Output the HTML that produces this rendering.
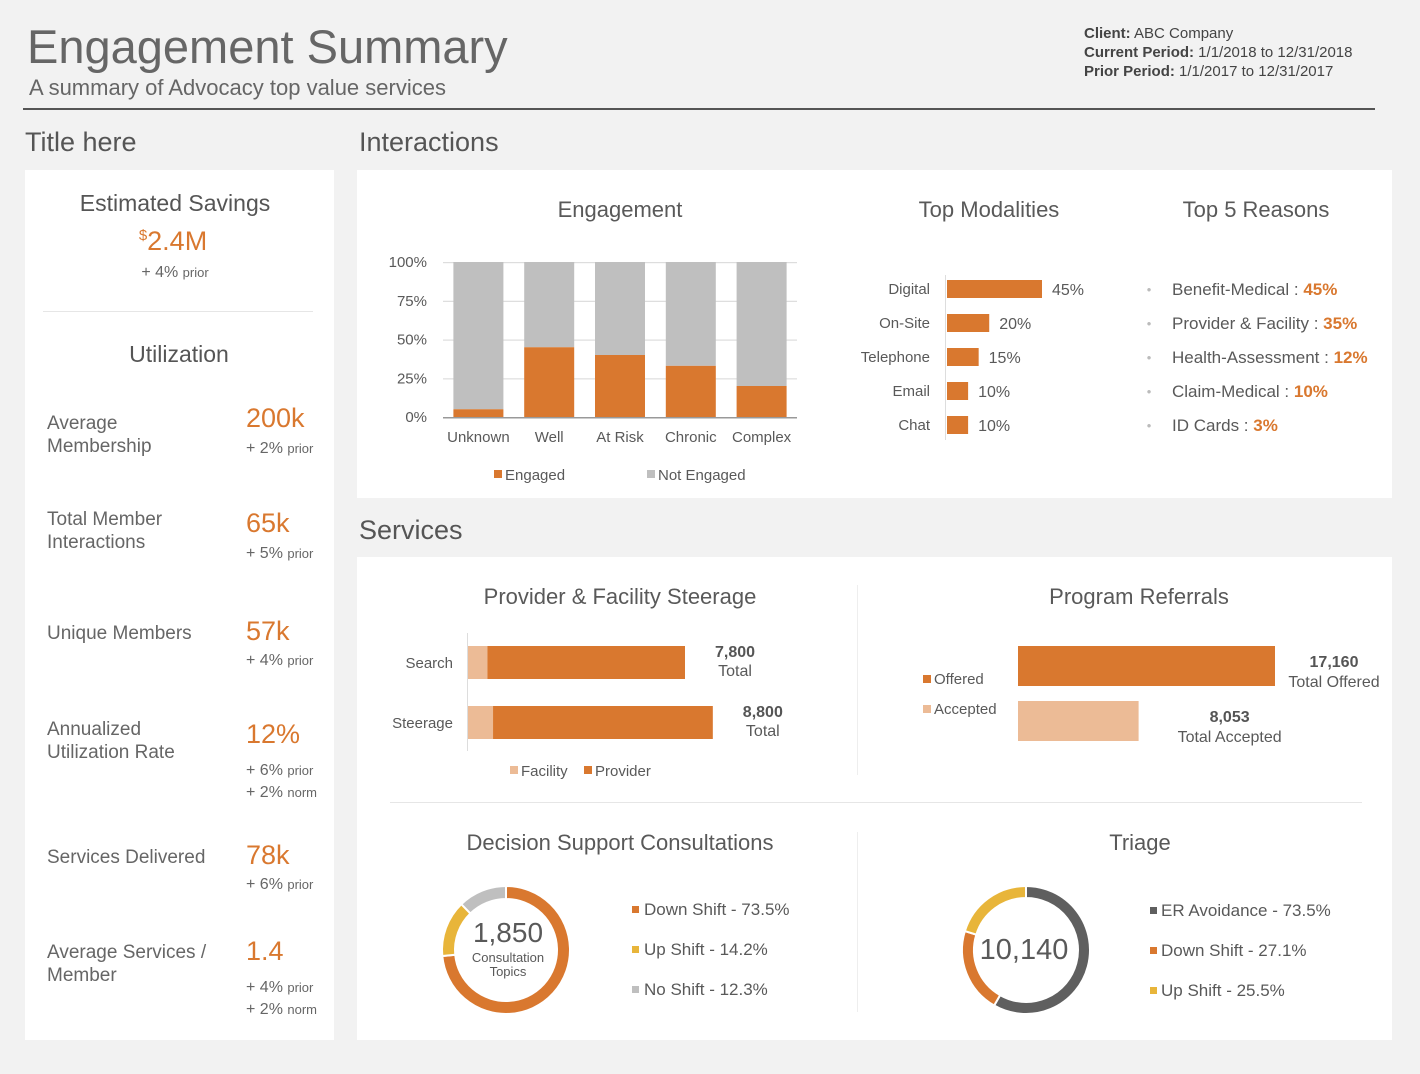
<!DOCTYPE html>
<html><head><meta charset="utf-8">
<style>
body{margin:0;width:1420px;height:1074px;background:#f2f2f2;font-family:"Liberation Sans",sans-serif;color:#595959;position:relative;overflow:hidden}
.a{position:absolute;white-space:nowrap}
.panel{position:absolute;background:#fff}
.o{color:#d9782f}
.lbl{font-size:19px;line-height:23px;color:#666}
.val{font-size:27px;color:#d9782f}
.sub{font-size:16px;color:#666}
.sub small{font-size:13px}
#svg{position:absolute;left:0;top:0}
</style></head><body>
<div class="a" style="left:27px;top:19px;font-size:47px;color:#666">Engagement Summary</div>
<div class="a" style="left:29px;top:75px;font-size:22px;color:#666">A summary of Advocacy top value services</div>
<div class="a" style="left:1084px;top:24px;font-size:15px;line-height:19px;color:#444"><b>Client:</b> ABC Company<br><b>Current Period:</b> 1/1/2018 to 12/31/2018<br><b>Prior Period:</b> 1/1/2017 to 12/31/2017</div>
<div class="a" style="left:23px;top:108px;width:1352px;height:2px;background:#555"></div>
<div class="a" style="left:25px;top:127px;font-size:27px;color:#555">Title here</div>
<div class="a" style="left:359px;top:127px;font-size:27px;color:#555">Interactions</div>
<div class="a" style="left:359px;top:515px;font-size:27px;color:#555">Services</div>

<div class="panel" style="left:25px;top:170px;width:309px;height:870px">
 <div class="a" style="left:0;width:300px;text-align:center;top:20px;font-size:23px;color:#555">Estimated Savings</div>
 <div class="a val" style="left:0;width:296px;text-align:center;top:56px"><sup style="font-size:15px">$</sup>2.4M</div>
 <div class="a sub" style="left:0;width:300px;text-align:center;top:94px">+ 4% <small>prior</small></div>
 <div class="a" style="left:18px;top:141px;width:270px;height:1px;background:#e6e6e6"></div>
 <div class="a" style="left:0;width:308px;text-align:center;top:171px;font-size:23px;color:#555">Utilization</div>
 <div class="a lbl" style="left:22px;top:242px">Average<br>Membership</div>
 <div class="a val" style="left:221px;top:233px">200k</div>
 <div class="a sub" style="left:221px;top:270px">+ 2% <small>prior</small></div>
 <div class="a lbl" style="left:22px;top:338px">Total Member<br>Interactions</div>
 <div class="a val" style="left:221px;top:338px">65k</div>
 <div class="a sub" style="left:221px;top:375px">+ 5% <small>prior</small></div>
 <div class="a lbl" style="left:22px;top:452px">Unique Members</div>
 <div class="a val" style="left:221px;top:446px">57k</div>
 <div class="a sub" style="left:221px;top:482px">+ 4% <small>prior</small></div>
 <div class="a lbl" style="left:22px;top:548px">Annualized<br>Utilization Rate</div>
 <div class="a val" style="left:221px;top:549px">12%</div>
 <div class="a sub" style="left:221px;top:590px;line-height:22px">+ 6% <small>prior</small><br>+ 2% <small>norm</small></div>
 <div class="a lbl" style="left:22px;top:676px">Services Delivered</div>
 <div class="a val" style="left:221px;top:670px">78k</div>
 <div class="a sub" style="left:221px;top:706px">+ 6% <small>prior</small></div>
 <div class="a lbl" style="left:22px;top:771px">Average Services /<br>Member</div>
 <div class="a val" style="left:221px;top:766px">1.4</div>
 <div class="a sub" style="left:221px;top:807px;line-height:22px">+ 4% <small>prior</small><br>+ 2% <small>norm</small></div>
</div>
<div class="panel" style="left:357px;top:170px;width:1035px;height:328px"></div>
<div class="panel" style="left:357px;top:557px;width:1035px;height:483px"></div>

<svg id="svg" width="1420" height="1074" font-family="Liberation Sans, sans-serif" fill="#595959"></svg>
<script>
const engCats=["Unknown","Well","At Risk","Chronic","Complex"];
const engaged=[5,45,40,33,20];
const engTicks=[0,25,50,75,100];
const modCats=["Digital","On-Site","Telephone","Email","Chat"];
const modVals=[45,20,15,10,10];
const reasonNames=["Benefit-Medical","Provider & Facility","Health-Assessment","Claim-Medical","ID Cards"];
const reasonVals=[45,35,12,10,3];
const steerCats=["Search","Steerage"];
const steerFacility=[700,900];
const steerProvider=[7100,7900];
const refCats=["Offered","Accepted"];
const refVals=[17160,8053];
const refLabels=["Total Offered","Total Accepted"];
const dscNames=["Down Shift","Up Shift","No Shift"];
const dscVals=[73.5,14.2,12.3];
const triNames=["ER Avoidance","Down Shift","Up Shift"];
const triVals=[73.5,27.1,25.5];
const OR="#d9782f",LO="#ecbb96",GR="#bfbfbf",YE="#e8b53a",DG="#5f5f5f";
const S=document.getElementById('svg');
function el(tag,at,txt){const e=document.createElementNS('http://www.w3.org/2000/svg',tag);for(const k in at)e.setAttribute(k,at[k]);if(txt!==undefined)e.textContent=txt;S.appendChild(e);return e;}
function T(x,y,s,size,anchor,name,extra){const e=el('text',Object.assign({x:x,y:y,'font-size':size,'text-anchor':anchor||'start'},extra||{}),s);return e;}
function R(x,y,w,h,f,name){const e=el('rect',{x:x,y:y,width:Math.max(0,w),height:h,fill:f});return e;}
T(620,217,"Engagement",22,'middle','engagement-title');
T(989,217,"Top Modalities",22,'middle','modalities-title');
T(1256,217,"Top 5 Reasons",22,'middle','reasons-title');
T(620,604,"Provider & Facility Steerage",22,'middle','steerage-title');
T(1139,604,"Program Referrals",22,'middle','referrals-title');
T(620,850,"Decision Support Consultations",22,'middle','dsc-title');
T(1140,850,"Triage",22,'middle','triage-title');
R(857,585,1,190,"#eee",'services-divider-v1');
R(857,832,1,180,"#eee",'services-divider-v2');
R(390,802,972,1,"#e6e6e6",'services-divider-h');
const ex0=443,ex1=797,ey0=417,ey1=262;
const ey=v=>ey0-(v/100)*(ey0-ey1);
const bw=(ex1-ex0)/engCats.length;
engTicks.forEach(t=>{R(ex0,ey(t),ex1-ex0,1.2,t===0?"#999":"#ddd",'gridline');T(427,ey(t)+5,t+"%",15,'end','y-tick-label');});
engCats.forEach((c,i)=>{const x=ex0+i*bw+(bw-50)/2;
 R(x,ey(100),50,ey(engaged[i])-ey(100),GR,'bar-not-engaged');
 R(x,ey(engaged[i]),50,ey(0)-ey(engaged[i]),OR,'bar-engaged');
 T(x+25,442,c,15,'middle','x-tick-label');});
R(ex0,ey0,ex1-ex0,1.5,"#999",'x-axis');
R(494,470,8,8,OR,'legend-swatch-engaged');T(505,480,"Engaged",15,'start','legend-engaged');
R(647,470,8,8,GR,'legend-swatch-not-engaged');T(658,480,"Not Engaged",15,'start','legend-not-engaged');
const mx0=947,mk=95/45;
R(945,275,1,165,"#ddd",'modality-axis');
modCats.forEach((c,i)=>{const y=289+i*34;R(mx0,y-9,modVals[i]*mk,18,OR,'modality-bar');
 T(930,y+5,c,15,'end','modality-label');T(mx0+modVals[i]*mk+10,y+6,modVals[i]+"%",16,'start','modality-value');});
reasonNames.forEach((n,i)=>{const y=289+i*34;T(1149,y+5,"•",13,'middle','reason-bullet',{fill:'#bbb'});
 const t=T(1172,y+6,n+" : ",17,'start','reason-label');const s=document.createElementNS('http://www.w3.org/2000/svg','tspan');s.setAttribute('fill',OR);s.setAttribute('font-weight','bold');s.textContent=reasonVals[i]+"%";t.appendChild(s);});
const sx0=468,sk=217/7800;
R(467,633,1,118,"#ddd",'steerage-axis');
steerCats.forEach((c,i)=>{const y=646+i*60;const f=steerFacility[i],p=steerProvider[i];
 R(sx0,y,f*sk,33,LO,'bar-facility');R(sx0+f*sk,y,p*sk,33,OR,'bar-provider');
 T(453,y+22,c,15,'end','steerage-label');
 const tx=sx0+(f+p)*sk+50;T(tx,y+11,(f+p).toLocaleString('en-US'),16,'middle','steerage-total',{'font-weight':'bold','fill':'#555'});
 T(tx,y+30,"Total",16,'middle','steerage-total-label');});
R(510,766,8,8,LO,'legend-swatch-facility');T(521,776,"Facility",15,'start','legend-facility');
R(584,766,8,8,OR,'legend-swatch-provider');T(595,776,"Provider",15,'start','legend-provider');
const rx0=1018,rk=257/17160;const refCols=[OR,LO];const refLegY=[679,709];
refCats.forEach((c,i)=>{const y=646+i*55;R(rx0,y,refVals[i]*rk,40,refCols[i],'referral-bar');
 R(923,refLegY[i]-4,8,8,refCols[i],'referral-legend-swatch');T(934,refLegY[i]+5,c,15,'start','referral-legend-label');
 const tx=rx0+refVals[i]*rk+(i===0?59:91);T(tx,y+21,refVals[i].toLocaleString('en-US'),16,'middle','referral-total',{'font-weight':'bold','fill':'#555'});
 T(tx,y+41,refLabels[i],16,'middle','referral-total-label');});
function donut(cx,cy,r0,r1,vals,cols,name){const tot=vals.reduce((a,b)=>a+b,0);let a=-Math.PI/2;
 vals.forEach((v,i)=>{const b=a+v/tot*2*Math.PI;const lg=(b-a)>Math.PI?1:0;
  const p=`M${cx+r1*Math.cos(a)} ${cy+r1*Math.sin(a)} A${r1} ${r1} 0 ${lg} 1 ${cx+r1*Math.cos(b)} ${cy+r1*Math.sin(b)} L${cx+r0*Math.cos(b)} ${cy+r0*Math.sin(b)} A${r0} ${r0} 0 ${lg} 0 ${cx+r0*Math.cos(a)} ${cy+r0*Math.sin(a)}Z`;
  const e=el('path',{d:p,fill:cols[i],stroke:'#fff','stroke-width':2});a=b;});}
const dCols=[OR,YE,GR];
donut(506,950,51,64,dscVals,dCols,'dsc');
T(508,942,"1,850",28,'middle','dsc-total');
T(508,962,"Consultation",13,'middle','dsc-caption');T(508,976,"Topics",13,'middle','dsc-caption');
dscNames.forEach((n,i)=>{const y=909+i*40;R(632,y-3,7,7,dCols[i],'dsc-legend-swatch');T(644,y+6,n+" - "+dscVals[i]+"%",17,'start','dsc-legend-label');});
const tCols=[DG,OR,YE];
donut(1026,950,52,64,triVals,tCols,'triage');
T(1024,959,"10,140",29,'middle','triage-total');
triNames.forEach((n,i)=>{const y=910+i*40;R(1150,y-3,7,7,tCols[i],'triage-legend-swatch');T(1161,y+6,n+" - "+triVals[i]+"%",17,'start','triage-legend-label');});
</script>
</body></html>
